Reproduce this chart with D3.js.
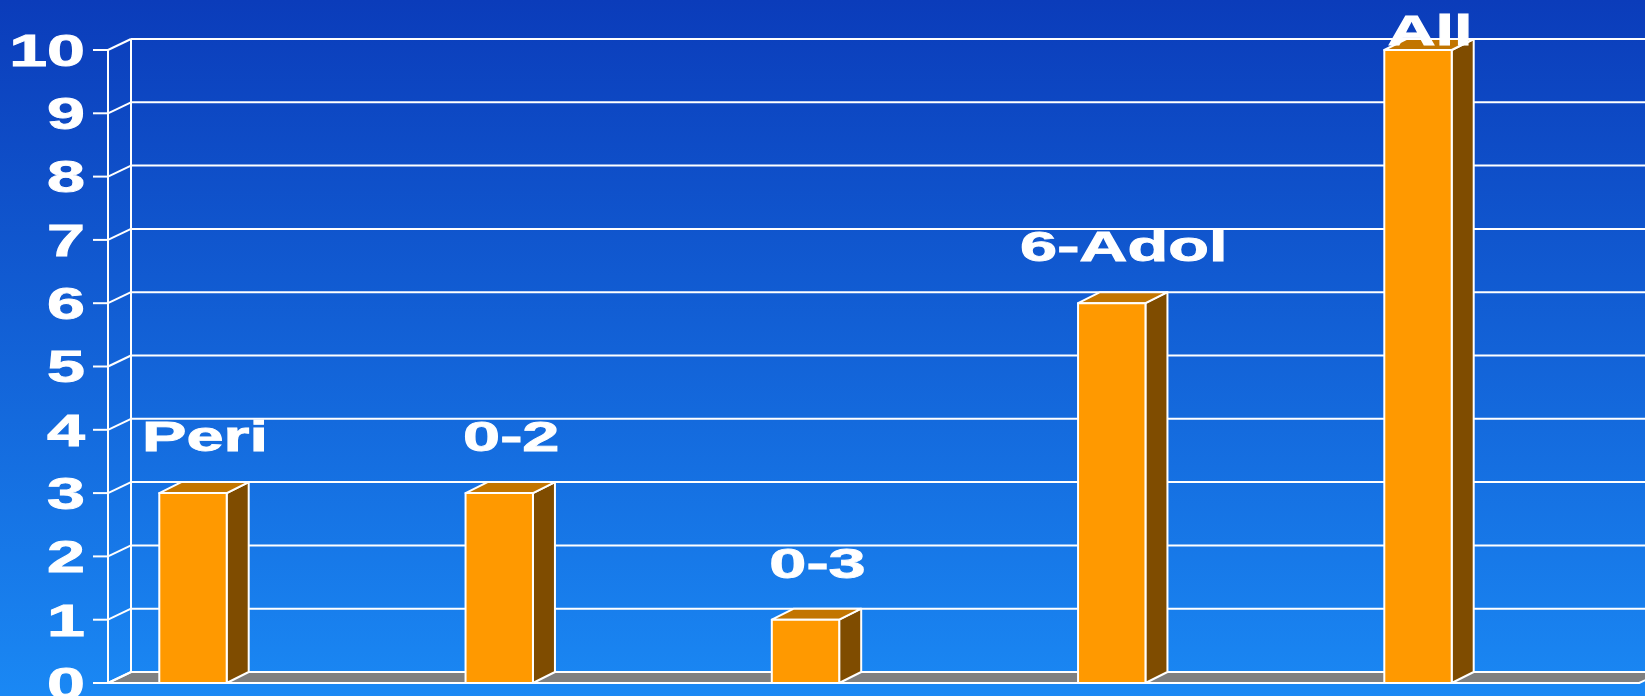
<!DOCTYPE html>
<html><head><meta charset="utf-8">
<script src="https://cdn.jsdelivr.net/npm/d3@7"></script>
<style>html,body{margin:0;padding:0;overflow:hidden;background:#1a86f2}</style>
</head><body>
<script>
const categories = ["Peri", "0-2", "0-3", "6-Adol", "All"];
const values = [3, 3, 1, 6, 10];
const tickValues = [0, 1, 2, 3, 4, 5, 6, 7, 8, 9, 10];

const W = 1645, H = 696;
const svg = d3.select("body").append("svg").attr("width", W).attr("height", H);
const defs = svg.append("defs");
const grad = defs.append("linearGradient").attr("id", "bg").attr("x1", 0).attr("y1", 0).attr("x2", 0).attr("y2", 1);
grad.append("stop").attr("offset", "0%").attr("stop-color", "#0b3cba");
grad.append("stop").attr("offset", "100%").attr("stop-color", "#1a88f4");
svg.append("rect").attr("width", W).attr("height", H).attr("fill", "url(#bg)");

const x0 = 108, x1 = 1639.25;
const depthX = 23, depthY = -11;       // wall depth
const barDX = 22, barDY = -11;         // bar depth
const y = d3.scaleLinear().domain([0, 10]).range([683, 50]);
const xBand = d3.scaleBand().domain(categories).range([x0, x1]).padding(0);
const barOffset = 51.3, barW = 67.4;

const font = "'Liberation Sans', Arial, sans-serif";
const stretch = 1.55;
const white = "#ffffff";

// floor
svg.append("polygon")
  .attr("points", [[x0, y(0)], [x0 + depthX, y(0) + depthY], [x1 + depthX, y(0) + depthY], [x1, y(0)]].map(p => p.join(",")).join(" "))
  .attr("fill", "#808080").attr("stroke", white).attr("stroke-width", 2);

// back wall gridlines
const g = svg.append("g").attr("stroke", white).attr("stroke-width", 2).attr("fill", "none");
tickValues.forEach(v => {
  const yf = y(v), yb = y(v) + depthY;
  g.append("line").attr("x1", x0 + depthX).attr("x2", W + 40).attr("y1", yb).attr("y2", yb);
  g.append("line").attr("x1", x0).attr("x2", x0 + depthX).attr("y1", yf).attr("y2", yb);
  g.append("line").attr("x1", x0 - 15).attr("x2", x0).attr("y1", yf).attr("y2", yf);
});
g.append("line").attr("x1", x0).attr("x2", x0).attr("y1", y(10)).attr("y2", y(0));
g.append("line").attr("x1", x0 + depthX).attr("x2", x0 + depthX).attr("y1", y(10) + depthY).attr("y2", y(0) + depthY);
g.append("line").attr("x1", x0).attr("x2", x1).attr("y1", y(0)).attr("y2", y(0));

// tick labels
svg.append("g").selectAll("text").data(tickValues).join("text")
  .attr("transform", d => `translate(85,${y(d)}) scale(${stretch},1)`)
  .attr("dy", "0.36em")
  .attr("text-anchor", "end")
  .attr("font-family", font).attr("font-weight", "bold").attr("font-size", 44)
  .attr("fill", white).attr("stroke", white).attr("stroke-width", 0.9)
  .text(d => d);

// bars
const bars = svg.append("g");
categories.forEach((c, i) => {
  const v = values[i];
  const xl = xBand(c) + barOffset, xr = xl + barW;
  const yt = y(v), yb = y(0);
  const gb = bars.append("g").attr("stroke", white).attr("stroke-width", 2).attr("stroke-linejoin", "round");
  // side
  gb.append("polygon").attr("points", [[xr, yt], [xr + barDX, yt + barDY], [xr + barDX, yb + barDY], [xr, yb]].map(p => p.join(",")).join(" "))
    .attr("fill", "#7f4c00");
  // top
  gb.append("polygon").attr("points", [[xl, yt], [xl + barDX, yt + barDY], [xr + barDX, yt + barDY], [xr, yt]].map(p => p.join(",")).join(" "))
    .attr("fill", "#c27500");
  // front
  gb.append("rect").attr("x", xl).attr("y", yt).attr("width", barW).attr("height", yb - yt)
    .attr("fill", "#ff9900");
});

// data labels
svg.append("g").selectAll("text").data(categories).join("text")
  .attr("transform", (d, i) => {
    const cx = xBand(d) + barOffset + barW / 2 + 12;
    const by = Math.max(y(values[i]) - 42, 45);
    return `translate(${cx},${by}) scale(${stretch},1)`;
  })
  .attr("text-anchor", "middle")
  .attr("font-family", font).attr("font-weight", "bold").attr("font-size", 43)
  .attr("fill", white).attr("stroke", white).attr("stroke-width", 0.9)
  .text(d => d);
</script>
</body></html>
